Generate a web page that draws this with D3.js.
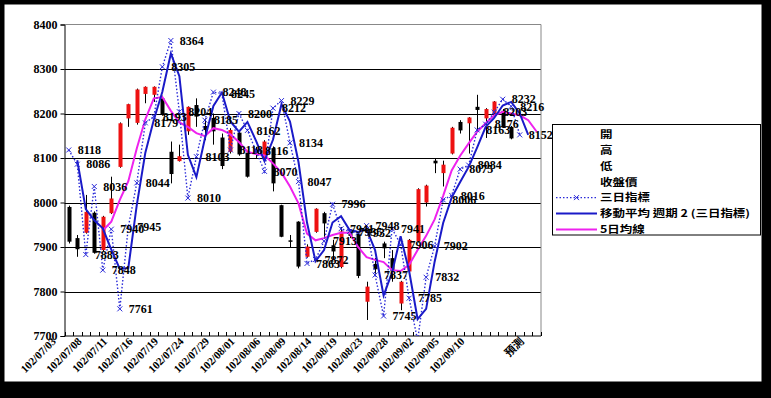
<!DOCTYPE html>
<html><head><meta charset="utf-8">
<script src="https://cdn.jsdelivr.net/npm/d3@7"></script>
<style>html,body{margin:0;padding:0;background:#000;} svg{display:block}</style>
</head><body>
<svg id="c" width="771" height="398"></svg>
<script>
const dates = ["102/07/03","102/07/04","102/07/05","102/07/08","102/07/09","102/07/10","102/07/11","102/07/12","102/07/15","102/07/16","102/07/17","102/07/18","102/07/19","102/07/22","102/07/23","102/07/24","102/07/25","102/07/26","102/07/29","102/07/30","102/07/31","102/08/01","102/08/02","102/08/05","102/08/06","102/08/07","102/08/08","102/08/09","102/08/12","102/08/13","102/08/14","102/08/15","102/08/16","102/08/19","102/08/20","102/08/22","102/08/23","102/08/26","102/08/27","102/08/28","102/08/29","102/08/30","102/09/02","102/09/03","102/09/04","102/09/05","102/09/06","102/09/09","102/09/10","102/09/11","102/09/12","102/09/13","102/09/16"];
const categories = dates.concat(["", "", "預測"]);
const shownTicks = [0,3,6,9,12,15,18,21,24,27,30,33,36,39,42,45,48,55];

const openP  = [7990,7920,7932,7977,7893,7976,8080,8189,8179,8244,8242,8234,8114,8093,8160,8219,8172,8190,8146,8114,8157,8112,8120,8100,8122,7994,7915,7957,7878,7934,7976,7904,7855,7935,7930,7777,7862,7908,7875,7773,7845,7913,8000,8094,8066,8110,8181,8178,8215,8189,8200,8206,8170];
const highP  = [7993,7927,8017,7980,7970,8058,8180,8222,8256,8261,8261,8240,8137,8130,8216,8234,8189,8200,8155,8167,8160,8114,8125,8140,8126,7995,7927,7958,7906,7987,7979,7916,7945,7940,7932,7822,7875,7912,7893,7824,7918,8032,8040,8100,8094,8170,8185,8192,8242,8212,8228,8210,8172];
const lowP   = [7908,7878,7930,7885,7890,7974,8078,8170,8175,8223,8226,8195,8043,8092,8152,8170,8140,8130,8075,8110,8105,8056,8100,8098,8025,7922,7900,7852,7876,7932,7923,7871,7852,7920,7830,7736,7840,7875,7822,7758,7843,7910,7991,8066,8036,8108,8155,8110,8163,8145,8198,8168,8142];
const closeP = [7912,7895,7979,7887,7968,8009,8178,8221,8254,8260,8260,8198,8064,8104,8215,8193,8163,8160,8082,8163,8108,8058,8112,8137,8043,7923,7913,7856,7901,7986,7953,7890,7935,7925,7835,7811,7850,7897,7845,7822,7916,8030,8038,8088,8085,8168,8162,8191,8208,8210,8227,8170,8144];

const threeDay = [8118,8086,7883,8036,7848,7940,7761,7945,8044,8179,8193,8305,8364,8204,8010,8103,8185,8248,8245,8118,8200,8162,8116,8070,8212,8229,8134,8047,7863,7872,7913,7996,7941,7935,7932,7948,7837,7745,7941,7906,7785,7690,7832,7902,8006,8016,8075,8084,8163,8176,8203,8232,8216,8152];
const movAvg2 = [null,8095,7985,7960,7942,7894,7851,7853,7995,8112,8186,8249,8335,8284,8107,8057,8144,8217,8247,8182,8159,8181,8139,8093,8141,8221,8182,8091,7955,7868,7893,7955,7969,7938,7934,7940,7893,7791,7843,7924,7846,7738,7761,7867,7954,8011,8046,8080,8124,8170,8190,8218,8226,8200,8152];
const ma5 = [null,null,null,null,7937,7957,8006,8048,8122,8187,8234,8237,8206,8180,8170,8156,8149,8167,8163,8153,8136,8114,8109,8106,8088,8067,8036,7998,7930,7915,7920,7927,7932,7932,7900,7877,7871,7866,7848,7846,7860,7893,7925,7962,8015,8072,8105,8133,8159,8178,8196,8204,8200,8196,8185,8159];

const yTicks = [7700,7800,7900,8000,8100,8200,8300,8400];
const legendNames = ["開","高","低","收盤價","三日指標","移動平均  週期 2 (三日指標)","5日均線"];

const svg = d3.select("#c");
const L = 64.5, R = 541, T = 24.5, B = 336;
const numFont = "'Liberation Serif', 'Noto Sans CJK TC', serif";
const cjkFont = "'Noto Sans CJK TC', sans-serif";
const blue = "#1a1ac8", dotBlue = "#2a2ad8", pink = "#ee22ee", red = "#ee1111";

svg.append("rect").attr("x",4.5).attr("y",4.5).attr("width",757).attr("height",377).attr("fill","#fff");

const x = d3.scaleBand().domain(d3.range(categories.length)).range([L, R]).padding(0);
const cx = i => x(i) + x.bandwidth()/2;
const y = d3.scaleLinear().domain([7700, 8400]).range([B, T]);

svg.append("defs").append("clipPath").attr("id","clip")
  .append("rect").attr("x",L).attr("y",T).attr("width",R-L).attr("height",B-T);

// gridlines
svg.append("g").selectAll("line").data(yTicks.filter(v=>v>7700 && v<8400)).join("line")
  .attr("x1",L).attr("x2",R).attr("y1",d=>Math.round(y(d))+0.5).attr("y2",d=>Math.round(y(d))+0.5)
  .attr("stroke","#000").attr("stroke-width",1);
// plot border top/right
svg.append("path").attr("d",`M${L},${T}H${R}V${B}`).attr("fill","none").attr("stroke","#888").attr("stroke-width",1);

// y axis
const yAxis = d3.axisLeft(y).tickValues(yTicks).tickSize(4).tickPadding(3).tickFormat(d3.format("d"));
const gy = svg.append("g").attr("transform",`translate(${L},0)`).call(yAxis);
gy.select(".domain").attr("stroke","#000");
gy.selectAll(".tick line").attr("stroke","#000");
gy.selectAll("text").attr("font-family",numFont).attr("font-size",12).attr("font-weight","bold").attr("fill","#000");

// x axis line and ticks (inside)
svg.append("line").attr("x1",L).attr("x2",R).attr("y1",B).attr("y2",B).attr("stroke","#000");
svg.append("g").selectAll("line").data(d3.range(categories.length+1)).join("line")
  .attr("x1",i=>Math.round(L + i*x.bandwidth())+0.5).attr("x2",i=>Math.round(L + i*x.bandwidth())+0.5)
  .attr("y1",B).attr("y2",B-4).attr("stroke","#000");
// x labels
svg.append("g").selectAll("text").data(shownTicks).join("text")
  .attr("transform",i=>`translate(${cx(i)-12},342) rotate(-45)`)
  .attr("text-anchor","end").attr("font-family",numFont).attr("font-size",11).attr("font-weight","bold")
  .text(i=>categories[i]);

const plot = svg.append("g").attr("clip-path","url(#clip)");

// candles
const cg = plot.append("g");
cg.selectAll("line").data(openP.map((o,i)=>i)).join("line")
  .attr("x1",i=>Math.round(cx(i))+0.5).attr("x2",i=>Math.round(cx(i))+0.5)
  .attr("y1",i=>y(highP[i])).attr("y2",i=>y(lowP[i])).attr("stroke","#000").attr("stroke-width",1);
cg.selectAll("rect").data(openP.map((o,i)=>i)).join("rect")
  .attr("x",i=>Math.round(cx(i))-1.5).attr("width",4)
  .attr("y",i=>y(Math.max(openP[i],closeP[i])))
  .attr("height",i=>Math.max(1.5, Math.abs(y(openP[i])-y(closeP[i]))))
  .attr("fill",i=>closeP[i]>=openP[i]?red:"#000");

const line = d3.line().defined(d=>d!=null).x((d,i)=>cx(i)).y(d=>y(d));

plot.append("path").attr("d",line(ma5)).attr("fill","none").attr("stroke",pink).attr("stroke-width",2);
plot.append("path").attr("d",line(threeDay)).attr("fill","none").attr("stroke",dotBlue).attr("stroke-width",1.4).attr("stroke-dasharray","1.5 2");
plot.append("path").attr("d",line(movAvg2)).attr("fill","none").attr("stroke",blue).attr("stroke-width",2);

// markers
const inRange = threeDay.map((v,i)=>i).filter(i=>threeDay[i]>=7700);
plot.append("g").selectAll("path").data(inRange).join("path")
  .attr("transform",i=>`translate(${cx(i)},${y(threeDay[i])})`)
  .attr("d","M-2.5,-2.5L2.5,2.5M-2.5,2.5L2.5,-2.5").attr("stroke",dotBlue).attr("stroke-width",1);
// data labels
svg.append("g").selectAll("text").data(inRange).join("text")
  .attr("x",i=>cx(i)+9).attr("y",i=>y(threeDay[i])).attr("dy","0.35em")
  .attr("font-family",numFont).attr("font-size",12).attr("font-weight","bold").attr("fill","#000")
  .text(i=>threeDay[i]);

// legend
const lg = svg.append("g");
lg.append("rect").attr("x",552.5).attr("y",124.5).attr("width",208).attr("height",110.5).attr("fill","#fff").attr("stroke","#000");
const ly = i => 134 + i*15.9;
lg.selectAll("text").data(legendNames).join("text")
  .attr("transform",(d,i)=>`translate(600,${ly(i)}) scale(1,0.8)`).attr("dy","0.38em")
  .attr("font-family",cjkFont).attr("font-size",12.5).attr("font-weight","bold").attr("fill","#000")
  .text(d=>d);
lg.append("line").attr("x1",556).attr("x2",597).attr("y1",ly(4)).attr("y2",ly(4)).attr("stroke",dotBlue).attr("stroke-width",1.4).attr("stroke-dasharray","1.5 2");
lg.append("path").attr("transform",`translate(576.5,${ly(4)})`).attr("d","M-2.5,-2.5L2.5,2.5M-2.5,2.5L2.5,-2.5").attr("stroke",dotBlue);
lg.append("line").attr("x1",556).attr("x2",597).attr("y1",ly(5)).attr("y2",ly(5)).attr("stroke",blue).attr("stroke-width",2);
lg.append("line").attr("x1",556).attr("x2",597).attr("y1",ly(6)).attr("y2",ly(6)).attr("stroke",pink).attr("stroke-width",2);
</script>
</body></html>
